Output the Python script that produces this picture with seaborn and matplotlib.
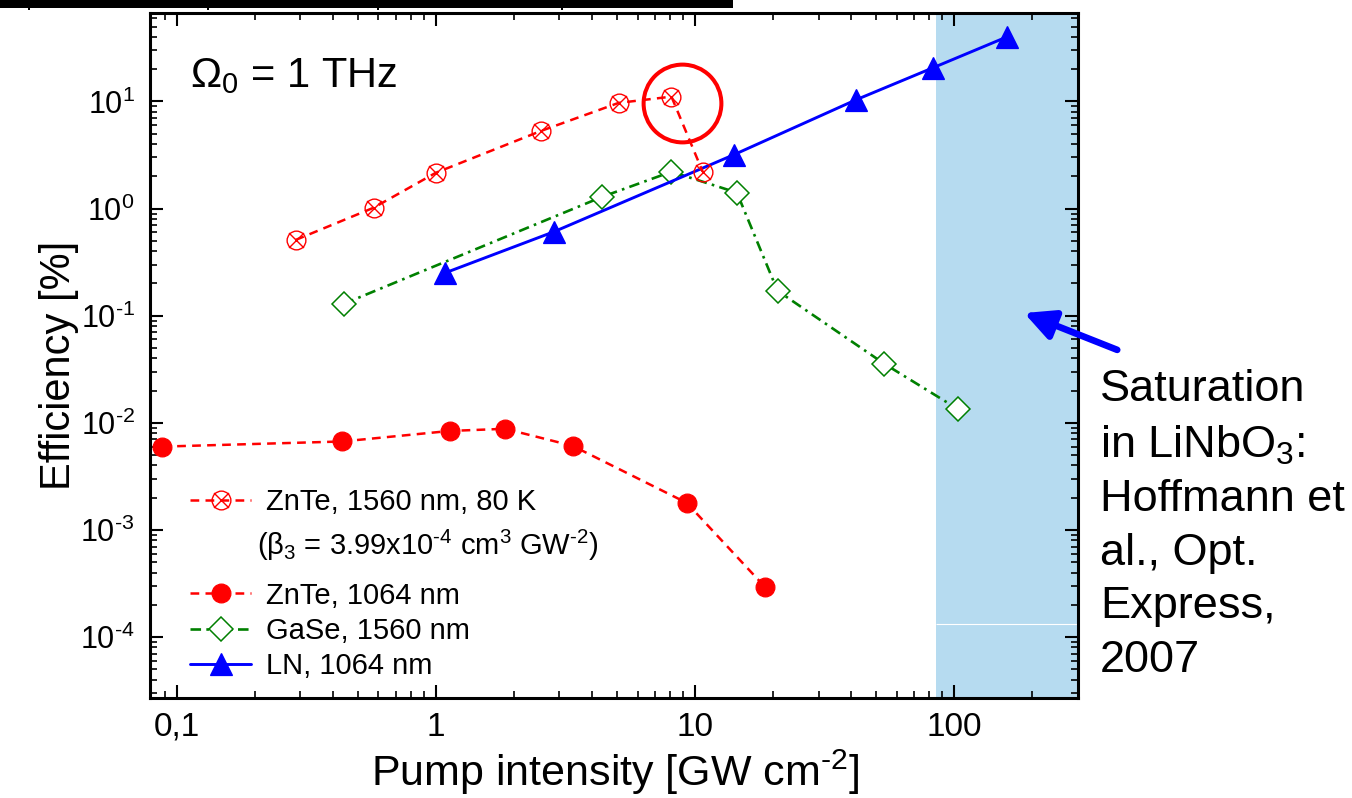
import matplotlib
matplotlib.use("Agg")
import matplotlib.pyplot as plt
import seaborn as sns
import numpy as np
from matplotlib.path import Path
from matplotlib.lines import Line2D
from matplotlib.patches import Rectangle
from matplotlib.ticker import LogLocator, FixedLocator, FuncFormatter, NullFormatter

# ---- measured efficiencies (pump intensity in GW/cm^2, efficiency in %) ----
znte80_x = [0.288, 0.576, 1.0, 2.54, 5.07, 8.11, 10.7]
znte80_y = [0.51, 1.02, 2.16, 5.3, 9.7, 11.1, 2.21]

znte1064_x = [0.088, 0.435, 1.13, 1.85, 3.37, 9.29, 18.6]
znte1064_y = [0.0060, 0.0067, 0.0084, 0.0088, 0.0061, 0.00179, 0.000294]

gase_x = [0.441, 4.39, 8.11, 14.5, 20.8, 53.7, 103]
gase_y = [0.129, 1.29, 2.21, 1.41, 0.171, 0.0356, 0.0135]

ln_x = [1.09, 2.85, 14.1, 41.9, 83, 160]
ln_y = [0.252, 0.607, 3.18, 10.4, 20.7, 40.2]

# highlighted point of the 80 K ZnTe series (maximum efficiency)
highlight_x = [8.87]
highlight_y = [9.7]

# LiNbO3 saturation range
saturation_range = [85, 300]

x_ticks = [0.1, 1, 10, 100]
x_tick_labels = ["0,1", "1", "10", "100"]
y_ticks = [1e-4, 1e-3, 1e-2, 1e-1, 1, 10]

HY = "\u2010"  # short hyphen used for negative exponents
label_80k = "ZnTe, 1560 nm, 80 K"
label_beta = "(β$_3$ = 3.99x10$^{" + HY + "4}$ cm$^3$ GW$^{" + HY + "2}$)"
label_1064 = "ZnTe, 1064 nm"
label_gase = "GaSe, 1560 nm"
label_ln = "LN, 1064 nm"

RED = "#ff0000"
GREEN = "#008000"
BLUE = "#0000ff"
SHADE = "#b6dbf0"

sns.set_style("ticks")
plt.rcParams["font.family"] = ["Liberation Sans", "DejaVu Sans"]
plt.rcParams["mathtext.fontset"] = "custom"
plt.rcParams["mathtext.rm"] = "Liberation Sans"
plt.rcParams["mathtext.it"] = "Liberation Sans:italic"
plt.rcParams["mathtext.bf"] = "Liberation Sans:bold"
plt.rcParams["axes.linewidth"] = 2.2
for key in ["text.color", "axes.labelcolor", "xtick.color", "ytick.color",
            "axes.edgecolor"]:
    plt.rcParams[key] = "black"

W, H = 1352, 798
fig = plt.figure(figsize=(W / 100, H / 100), dpi=100)
ax = fig.add_axes([150 / W, 100 / H, 928 / W, 685 / H])
ax.set_xscale("log")
ax.set_yscale("log")
ax.set_xlim(0.079, 300)
ax.set_ylim(2.7e-5, 67)

# crossed-circle marker: circle with an X through it
circ = Path.unit_circle()
d = 0.8
cross = Path([(-d, -d), (d, d), (-d, d), (d, -d)],
             [Path.MOVETO, Path.LINETO, Path.MOVETO, Path.LINETO])
crossed_circle = Path.make_compound_path(circ, cross)

dash_red = (0, (3.5, 2.5))
dash_green = (0, (4, 2, 1, 2))

ax.axvspan(*saturation_range, color=SHADE, lw=0, zorder=0)
ax.hlines(1.33e-4, *saturation_range, color="white", lw=0.8, zorder=0.5)

style_80k = dict(color=RED, lw=1.8, linestyle=dash_red, marker=crossed_circle,
                 markersize=13.5, markerfacecolor="none", markeredgecolor=RED,
                 markeredgewidth=1.0)
style_1064 = dict(color=RED, lw=1.8, linestyle=dash_red, marker="o",
                  markersize=13.5, markerfacecolor=RED, markeredgecolor=RED,
                  markeredgewidth=0.9)
style_gase = dict(color=GREEN, lw=1.9, linestyle=dash_green, marker="D",
                  markersize=12, markerfacecolor="white", markeredgecolor=GREEN,
                  markeredgewidth=1.1)
style_ln = dict(color=BLUE, lw=2.1, linestyle="-", marker="^",
                markersize=16.5, markerfacecolor=BLUE, markeredgecolor=BLUE,
                markeredgewidth=0.9)

sns.lineplot(x=gase_x, y=gase_y, ax=ax, sort=False, estimator=None, zorder=3, **style_gase)
sns.lineplot(x=ln_x, y=ln_y, ax=ax, sort=False, estimator=None, zorder=4, **style_ln)
sns.lineplot(x=znte1064_x, y=znte1064_y, ax=ax, sort=False, estimator=None, zorder=5, **style_1064)
sns.lineplot(x=znte80_x, y=znte80_y, ax=ax, sort=False, estimator=None, zorder=6, **style_80k)

# ring around the maximum of the 80 K series
ax.plot(highlight_x, highlight_y, linestyle="none", marker="o", markersize=56,
        markerfacecolor="none", markeredgecolor=RED, markeredgewidth=2.9, zorder=7)


def decade_label(v, pos):
    e = int(round(np.log10(v)))
    sign = HY if e < 0 else ""
    return "$10^{" + sign + str(abs(e)) + "}$"


# axes and ticks
ax.set_xticks(x_ticks)
ax.set_xticklabels(x_tick_labels)
ax.xaxis.set_minor_locator(LogLocator(base=10, subs=range(2, 10), numticks=20))
ax.xaxis.set_minor_formatter(NullFormatter())
ax.yaxis.set_major_locator(FixedLocator(y_ticks))
ax.yaxis.set_major_formatter(FuncFormatter(decade_label))
ax.yaxis.set_minor_locator(LogLocator(base=10, subs=range(2, 10), numticks=20))
ax.yaxis.set_minor_formatter(NullFormatter())
ax.tick_params(which="both", direction="in", top=True, right=True, color="black")
ax.tick_params(which="major", length=9.5, width=1.5)
ax.tick_params(axis="x", which="major", labelsize=24, pad=10)
ax.tick_params(axis="y", which="major", labelsize=22, pad=11)
ax.tick_params(which="minor", length=5, width=1.2)
for s in ax.spines.values():
    s.set_color("black")
    s.set_linewidth(2.2)

ax.set_xlabel("Pump intensity [GW cm$^{" + HY + "2}$]", fontsize=31)
ax.xaxis.set_label_coords(0.501, -0.073)
ax.set_ylabel("Efficiency [%]", fontsize=30)
ax.yaxis.set_label_coords(-0.077, 0.485)

ax.text(0.043, 0.892, "Ω$_0$ = 1 THz", transform=ax.transAxes,
        fontsize=30, va="baseline", ha="left")

# legend: 80 K series on top, its beta_3 note below, then the other series
leg_kw = dict(frameon=False, fontsize=21, handlelength=2.1, handletextpad=0.5,
              labelspacing=0.25, borderpad=0, borderaxespad=0)
leg_top = ax.legend([Line2D([], [], **style_80k)], [label_80k],
                    loc="center left", bbox_to_anchor=(0.043, 0.286), **leg_kw)
ax.add_artist(leg_top)
ax.text(0.1153, 0.2234, label_beta, transform=ax.transAxes, fontsize=21,
        va="center", ha="left")
ax.legend([Line2D([], [], **style_1064), Line2D([], [], **style_gase),
           Line2D([], [], **style_ln)],
          [label_1064, label_gase, label_ln],
          loc="lower left", bbox_to_anchor=(0.043, 0.026), **leg_kw)

# saturation note with arrow into the shaded range
ax.annotate("", xy=(186, 0.106), xytext=(425, 0.048), xycoords="data",
            textcoords="data", annotation_clip=False,
            arrowprops=dict(arrowstyle="-|>", color=BLUE, lw=4.8,
                            mutation_scale=45, shrinkA=0, shrinkB=0))
ax.text(1.0237, 0.480,
        "Saturation\nin LiNbO$_3$:\nHoffmann et\nal., Opt.\nExpress,\n2007",
        transform=ax.transAxes, fontsize=32.5, va="top", ha="left",
        linespacing=1.39)

# header rule along the top edge
fig.patches.append(Rectangle((0, 1 - 7.5 / H), 733 / W, 7.5 / H,
                             transform=fig.transFigure, color="black", lw=0))
for sx in [28, 207, 377, 561]:
    fig.patches.append(Rectangle((sx / W, 1 - 10 / H), 2 / W, 3 / H,
                                 transform=fig.transFigure, color="black", lw=0))

fig.savefig("out.png", dpi=100)
